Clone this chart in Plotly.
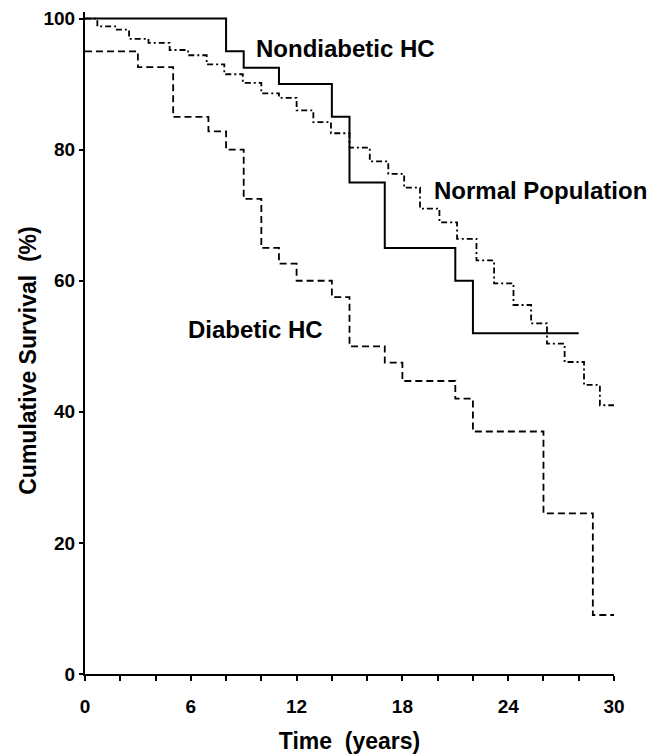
import plotly.graph_objects as go

# Nondiabetic HC (solid)
nondiab_t = [0, 8, 9, 11, 14, 15, 17, 21, 22, 28]
nondiab_s = [100, 95, 92.5, 90, 85, 75, 65, 60, 52, 52]

# Normal population (dash-dot)
normal_t = [0, 0.7, 1.8, 2.5, 3.6, 4.8, 5.85, 6.9, 7.9, 8.95, 10.0, 11.0, 12.0, 12.95,
            13.95, 15.0, 16.15, 17.2, 18.1, 19.0, 20.1, 21.1, 22.2, 23.2, 24.3, 25.3,
            26.2, 27.2, 28.3, 29.2, 30.0]
normal_s = [100, 98.8, 98.3, 96.9, 96.3, 95.2, 94.4, 93.0, 91.5, 90.2, 88.6, 87.9, 86.0, 84.2,
            82.5, 80.3, 78.2, 76.3, 74.2, 71.0, 68.9, 66.4, 63.1, 59.6, 56.3, 53.5,
            50.4, 47.6, 44.1, 41.0, 41.0]

# Diabetic HC (dashed)
diab_t = [0, 3, 5, 7, 8, 9, 10, 11, 12, 14, 15, 17, 18, 21, 22, 26, 28.8, 30]
diab_s = [95, 92.6, 85, 82.8, 80, 72.5, 65, 62.6, 60, 57.5, 50, 47.5, 44.7, 42, 37, 24.5, 9, 9]

x_ticks = [0, 6, 12, 18, 24, 30]
y_ticks = [0, 20, 40, 60, 80, 100]

labels = ["Nondiabetic HC", "Normal Population", "Diabetic HC"]
label_x = [9.6, 19.7, 5.7]
label_y = [95.4, 73.7, 52.6]

x_title = "Time\u00a0\u00a0(years)"
y_title = "Cumulative Survival\u00a0\u00a0(%)"

FONT = "Liberation Sans, Arial, sans-serif"

fig = go.Figure()
fig.add_trace(go.Scatter(x=nondiab_t, y=nondiab_s, mode="lines", line_shape="hv",
                         line=dict(color="black", width=2), name=labels[0]))
fig.add_trace(go.Scatter(x=normal_t, y=normal_s, mode="lines", line_shape="hv",
                         line=dict(color="black", width=1.8, dash="6px,3px,2px,3px"), name=labels[1]))
fig.add_trace(go.Scatter(x=diab_t, y=diab_s, mode="lines", line_shape="hv",
                         line=dict(color="black", width=1.8, dash="7px,4px"), name=labels[2]))

for t, lx, ly in zip(labels, label_x, label_y):
    fig.add_annotation(x=lx, y=ly, text="<b>%s</b>" % t, showarrow=False,
                       xanchor="left", yanchor="middle",
                       font=dict(family=FONT, size=24, color="black"))

# y-axis title (placed slightly below the plot centre, as in the original)
fig.add_annotation(xref="paper", yref="paper", x=-0.108, y=0.473, text="<b>%s</b>" % y_title,
                   textangle=-90, showarrow=False, xanchor="center", yanchor="middle",
                   font=dict(family=FONT, size=23, color="black"))

fig.update_layout(
    width=668, height=754,
    margin=dict(l=85, r=54, t=11.5, b=80),
    plot_bgcolor="white", paper_bgcolor="white",
    showlegend=False,
    font=dict(family=FONT, color="black"),
)
fig.update_xaxes(
    range=[0, 30], tickvals=x_ticks, ticktext=["<b>%d</b>" % v for v in x_ticks],
    showgrid=False, zeroline=False, showline=True, linecolor="black", linewidth=2,
    ticks="outside", ticklen=5, tickwidth=1.5, tickcolor="black",
    minor=dict(dtick=2, ticks="outside", ticklen=5, tickwidth=1.5, tickcolor="black", showgrid=False),
    tickfont=dict(family=FONT, size=19, color="black"), ticklabelstandoff=9,
    automargin=False,
    title=dict(text="<b>%s</b>" % x_title, font=dict(family=FONT, size=23, color="black"),
               standoff=19),
)
fig.update_yaxes(
    range=[0, 101], tickvals=y_ticks, ticktext=["<b>%d</b>" % v for v in y_ticks],
    showgrid=False, zeroline=False, showline=True, linecolor="black", linewidth=2,
    ticks="outside", ticklen=4, tickwidth=1.5, tickcolor="black",
    tickfont=dict(family=FONT, size=19, color="black"),
    automargin=False,
)

fig.write_html("out.html")
